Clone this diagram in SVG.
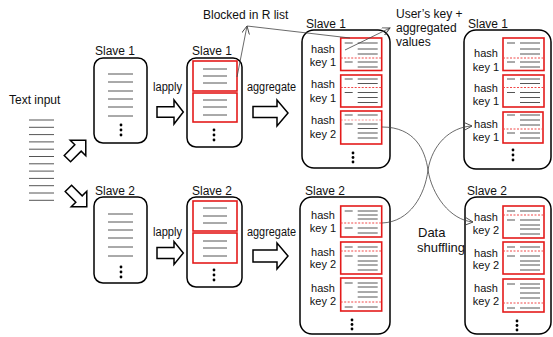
<svg xmlns="http://www.w3.org/2000/svg" xmlns:xlink="http://www.w3.org/1999/xlink" width="553" height="337" viewBox="0 0 553 337">
<style>
text{font-family:"Liberation Sans",Arial,sans-serif;fill:#111}
.lbl{font-size:12px}
.hk{font-size:11px;text-anchor:middle}
.box{fill:#fff;stroke:#000;stroke-width:1.5}
.red{fill:none;stroke:#e41b1b;stroke-width:1.6}
.ln{stroke:#555;stroke-width:1;fill:none}
.dash{stroke:#f04848;stroke-width:1;stroke-dasharray:2 1.5;fill:none}
.blk{fill:#fff;stroke:#000;stroke-width:1.5;stroke-linejoin:miter}
.con{fill:none;stroke:#444;stroke-width:0.8}
.dot{fill:#000}
</style>
<defs>
<marker id="ah" markerUnits="userSpaceOnUse" markerWidth="10" markerHeight="10" refX="8" refY="4" orient="auto">
<path d="M0,0 L8,4 L0,8" fill="none" stroke="#444" stroke-width="0.9"/>
</marker>
<g id="p1"><rect class="red" width="41" height="32.5"/><path class="ln" d="M4,5H12M17,5H37M17,11H37M17,16H37M4,24H12M17,24H37M17,29H37"/><path class="dash" d="M0,20H41"/></g>
<g id="p2"><rect class="red" width="41" height="32"/><path class="ln" d="M4,4H12M17,4H37M17,8.5H37M4,17.5H12M17,17.5H37M17,22.5H37M17,27.5H37"/><path class="dash" d="M0,12.5H41"/></g>
<g id="p3"><rect class="red" width="41" height="33"/><path class="ln" d="M4,4H12M17,4H37M4,13H12M17,13H37M17,17.5H37M17,22H37M17,27H37"/><path class="dash" d="M0,9H41" opacity="0.6"/></g>
<g id="p4"><rect class="red" width="40" height="31"/><path class="ln" d="M4,3H12M17,3H37M17,8H37M17,13H37M4,21H12M17,21H37M17,26H37"/><path class="dash" d="M0,17H40"/></g>
<g id="p5"><rect class="red" width="41" height="31"/><path class="ln" d="M4,5H12M17,5H37M17,9H37M17,13H37M4,22H12M17,22H37M17,27H37"/><path class="dash" d="M0,17H41"/></g>
<g id="p6"><rect class="red" width="41" height="32"/><path class="ln" d="M4,5H12M17,5H37M4,14H12M17,14H37M17,19H37M17,23H37M17,28H37"/><path class="dash" d="M0,9H41"/></g>
<g id="p7"><rect class="red" width="41" height="33"/><path class="ln" d="M4,5H12M17,5H37M17,9H37M17,14H37M17,19H37M4,29H12M17,29H37"/><path class="dash" d="M0,24H41"/></g>
<path id="rarrow" d="M-15,-4.5H0V-11L11,0L0,11V4.5H-15Z"/>
</defs>

<g id="text-input">
<text class="lbl" x="9" y="104">Text input</text>
<path class="ln" d="M29,120H54M29,127.3H54M29,134.6H54M29,141.9H54M29,149.2H54M29,156.5H54M29,163.8H54M29,171.1H54M29,178.4H54M29,185.7H54M29,193H54M29,200.3H54"/>
</g>

<g id="split-arrows">
<use href="#rarrow" class="blk" transform="translate(78,148) rotate(-45)"/>
<use href="#rarrow" class="blk" transform="translate(79,199) rotate(45)"/>
</g>

<g id="a1">
<text class="lbl" x="95" y="55">Slave 1</text>
<rect class="box" x="94" y="58" width="53" height="85" rx="9"/>
<path class="ln" d="M108,74H133M108,82H133M108,91H133M108,99H133M108,107H133M108,116H133"/>
<circle class="dot" cx="121" cy="125" r="1.4"/><circle class="dot" cx="121" cy="130" r="1.4"/><circle class="dot" cx="121" cy="135" r="1.4"/>
</g>
<g id="a2">
<text class="lbl" x="95" y="195">Slave 2</text>
<rect class="box" x="94" y="197" width="53" height="86" rx="9"/>
<path class="ln" d="M108,214H133M108,222H133M108,230H133M108,238H133M108,247H133M108,256H133"/>
<circle class="dot" cx="121" cy="267" r="1.4"/><circle class="dot" cx="121" cy="272" r="1.4"/><circle class="dot" cx="121" cy="277" r="1.4"/>
</g>

<g id="lapply">
<text class="lbl" x="153" y="91" textLength="29" lengthAdjust="spacingAndGlyphs">lapply</text>
<path class="blk" d="M157,106.7H174V100L183.3,112L174,124V117.3H157Z"/>
<text class="lbl" x="153" y="236" textLength="29" lengthAdjust="spacingAndGlyphs">lapply</text>
<path class="blk" d="M157,247.5H174V241.5L183.3,253L174,264.5V258.5H157Z"/>
</g>

<g id="b1">
<text class="lbl" x="192" y="55">Slave 1</text>
<rect class="box" x="187" y="58" width="55" height="89" rx="9"/>
<rect class="red" x="193" y="61" width="44" height="30"/>
<rect class="red" x="193" y="93" width="44" height="29"/>
<path class="ln" d="M203,69H227M203,76H227M203,83H227M203,100H227M203,107H227M203,115H227"/>
<circle class="dot" cx="214" cy="130" r="1.4"/><circle class="dot" cx="214" cy="135" r="1.4"/><circle class="dot" cx="214" cy="140" r="1.4"/>
</g>
<g id="b2">
<text class="lbl" x="192" y="195">Slave 2</text>
<rect class="box" x="187" y="197" width="55" height="90" rx="9"/>
<rect class="red" x="193" y="201" width="44" height="30"/>
<rect class="red" x="193" y="233" width="44" height="30"/>
<path class="ln" d="M203,208H227M203,216H227M203,223H227M203,241H227M203,248H227M203,256H227"/>
<circle class="dot" cx="214" cy="270" r="1.4"/><circle class="dot" cx="214" cy="275" r="1.4"/><circle class="dot" cx="214" cy="280" r="1.4"/>
</g>

<g id="aggregate">
<text class="lbl" x="247" y="91" textLength="49" lengthAdjust="spacingAndGlyphs">aggregate</text>
<path class="blk" d="M253,106.5H277V100L288,113L277,126V117.5H253Z"/>
<text class="lbl" x="247" y="236" textLength="49" lengthAdjust="spacingAndGlyphs">aggregate</text>
<path class="blk" d="M253,250H277V243L288,256L277,269V262H253Z"/>
</g>

<g id="c1">
<text class="lbl" x="306" y="28">Slave 1</text>
<rect class="box" x="302" y="30" width="88" height="138" rx="12"/>
<use href="#p1" x="340.7" y="38"/>
<use href="#p2" x="340.7" y="75"/>
<use href="#p3" x="340.7" y="111"/>
<text class="hk" x="323" y="53">hash</text><text class="hk" x="323" y="66">key 1</text>
<text class="hk" x="323" y="88">hash</text><text class="hk" x="323" y="102">key 1</text>
<text class="hk" x="323" y="124">hash</text><text class="hk" x="323" y="138">key 2</text>
<circle class="dot" cx="353" cy="153" r="1.4"/><circle class="dot" cx="353" cy="157.5" r="1.4"/><circle class="dot" cx="353" cy="162" r="1.4"/>
</g>
<g id="c2">
<text class="lbl" x="305" y="195">Slave 2</text>
<rect class="box" x="300" y="197" width="90" height="137" rx="12"/>
<use href="#p5" x="340.7" y="206"/>
<use href="#p6" x="340.7" y="242"/>
<use href="#p7" x="340.7" y="278"/>
<text class="hk" x="323" y="219">hash</text><text class="hk" x="323" y="232">key 1</text>
<text class="hk" x="323" y="256">hash</text><text class="hk" x="323" y="268">key 2</text>
<text class="hk" x="323" y="292">hash</text><text class="hk" x="323" y="305">key 2</text>
<circle class="dot" cx="352" cy="320" r="1.4"/><circle class="dot" cx="352" cy="324.5" r="1.4"/><circle class="dot" cx="352" cy="329" r="1.4"/>
</g>

<g id="d1">
<text class="lbl" x="468" y="28">Slave 1</text>
<rect class="box" x="464" y="30" width="87" height="139" rx="12"/>
<use href="#p1" x="503" y="38"/>
<use href="#p2" x="503" y="75"/>
<use href="#p4" x="503" y="112"/>
<text class="hk" x="486" y="57">hash</text><text class="hk" x="486" y="71">key 1</text>
<text class="hk" x="486" y="92">hash</text><text class="hk" x="486" y="105">key 1</text>
<text class="hk" x="486" y="128">hash</text><text class="hk" x="486" y="141">key 1</text>
<circle class="dot" cx="513" cy="150" r="1.4"/><circle class="dot" cx="513" cy="155" r="1.4"/><circle class="dot" cx="513" cy="160" r="1.4"/>
</g>
<g id="d2">
<text class="lbl" x="467" y="195">Slave 2</text>
<rect class="box" x="465" y="197" width="86" height="137" rx="12"/>
<use href="#p6" x="503" y="206"/>
<use href="#p6" x="503" y="242"/>
<use href="#p7" x="503" y="279"/>
<text class="hk" x="486" y="221">hash</text><text class="hk" x="486" y="234">key 2</text>
<text class="hk" x="486" y="257">hash</text><text class="hk" x="486" y="269">key 2</text>
<text class="hk" x="486" y="292">hash</text><text class="hk" x="486" y="305">key 2</text>
<circle class="dot" cx="517" cy="321" r="1.4"/><circle class="dot" cx="517" cy="325.5" r="1.4"/><circle class="dot" cx="517" cy="330" r="1.4"/>
</g>

<g id="annotations">
<text class="lbl" x="203" y="19">Blocked in R list</text>
<text class="lbl" x="396" y="18">User’s key +</text>
<text class="lbl" x="396" y="32">aggregated</text>
<text class="lbl" x="396" y="46">values</text>
<text class="lbl" x="418" y="237" style="font-size:13px">Data</text>
<text class="lbl" x="417" y="252" style="font-size:13px" textLength="48" lengthAdjust="spacingAndGlyphs">shuffling</text>
</g>

<g id="connectors">
<path class="con" d="M237,77L247,26" marker-end="url(#ah)"/>
<path class="con" d="M247,26L350,38"/>
<path class="con" d="M345,50L390,28" marker-end="url(#ah)"/>
<path class="con" d="M382,127C415,127 425,150 428,170C432,195 450,220 473,222" marker-end="url(#ah)"/>
<path class="con" d="M382,223C410,222 425,195 428,170C432,145 450,127 472,126" marker-end="url(#ah)"/>
</g>
</svg>
